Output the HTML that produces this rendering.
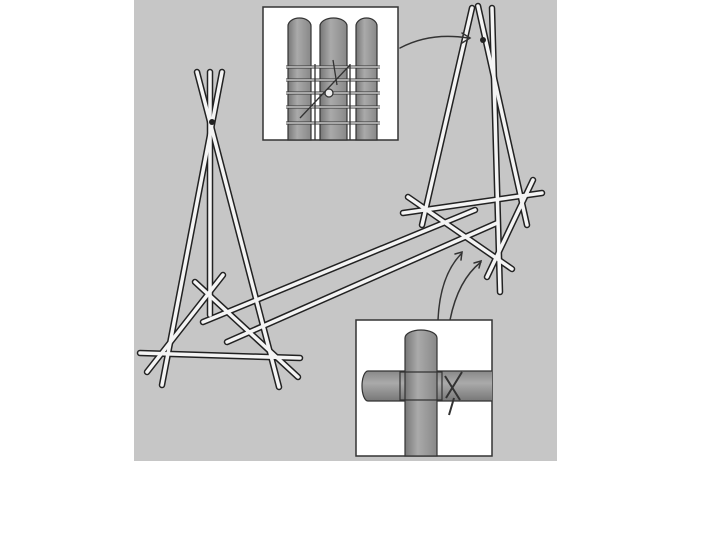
<!DOCTYPE html>
<html><head><meta charset="utf-8"><style>html,body{margin:0;padding:0;background:#fff;width:720px;height:540px;overflow:hidden}</style></head>
<body>
<svg width="720" height="540" viewBox="0 0 720 540" xmlns="http://www.w3.org/2000/svg">
<defs>
<linearGradient id="cv" x1="0" x2="1" y1="0" y2="0"><stop offset="0" stop-color="#777"/><stop offset="0.4" stop-color="#aaa"/><stop offset="1" stop-color="#888"/></linearGradient>
<linearGradient id="ch" x1="0" x2="0" y1="0" y2="1"><stop offset="0" stop-color="#888"/><stop offset="0.4" stop-color="#aaa"/><stop offset="1" stop-color="#777"/></linearGradient>
</defs>
<rect x="134" y="0" width="423" height="461" fill="#c6c6c6"/>
<g stroke-linecap="round" fill="none">
<g stroke="#222" stroke-width="6.5">
<line x1="222" y1="72" x2="162" y2="385"/><line x1="197" y1="72" x2="279" y2="387"/><line x1="210" y1="72" x2="210" y2="315"/>
<line x1="140" y1="353" x2="300" y2="358"/><line x1="195" y1="282" x2="298" y2="377"/><line x1="147" y1="372" x2="223" y2="275"/>
<line x1="203" y1="322" x2="475" y2="210"/><line x1="227" y1="342" x2="497" y2="223"/>
<line x1="472" y1="8" x2="422" y2="225"/><line x1="492" y1="8" x2="500" y2="292"/><line x1="478" y1="6" x2="527" y2="225"/>
<line x1="403" y1="213" x2="542" y2="193"/><line x1="408" y1="197" x2="512" y2="269"/><line x1="533" y1="180" x2="487" y2="277"/>
</g>
<g stroke="#f4f4f4" stroke-width="3.5">
<line x1="222" y1="72" x2="162" y2="385"/><line x1="197" y1="72" x2="279" y2="387"/><line x1="210" y1="72" x2="210" y2="315"/>
<line x1="140" y1="353" x2="300" y2="358"/><line x1="195" y1="282" x2="298" y2="377"/><line x1="147" y1="372" x2="223" y2="275"/>
<line x1="203" y1="322" x2="475" y2="210"/><line x1="227" y1="342" x2="497" y2="223"/>
<line x1="472" y1="8" x2="422" y2="225"/><line x1="492" y1="8" x2="500" y2="292"/><line x1="478" y1="6" x2="527" y2="225"/>
<line x1="403" y1="213" x2="542" y2="193"/><line x1="408" y1="197" x2="512" y2="269"/><line x1="533" y1="180" x2="487" y2="277"/>
</g>
<circle cx="212" cy="122" r="3" fill="#222" stroke="none"/><circle cx="483" cy="40" r="3" fill="#222" stroke="none"/>
<g stroke="#333" stroke-width="1.5">
<path d="M400 48 Q430 32 468 38"/><path d="M462 33 L470 38 L462 43"/>
<path d="M438 320 Q440 275 462 253"/><path d="M455 254 L462 252 L461 260"/>
<path d="M450 320 Q458 280 481 262"/><path d="M474 263 L481 261 L479 268"/>
</g>
</g>
<rect x="263" y="7" width="135" height="133" fill="#fff" stroke="#333" stroke-width="1.5"/>
<g stroke="#333" stroke-width="1.2">
<path d="M288 140 V26 a11.5 8 0 0 1 23 0 V140 Z" fill="url(#cv)"/>
<path d="M320 140 V26 a13.5 8 0 0 1 27 0 V140 Z" fill="url(#cv)"/>
<path d="M356 140 V26 a10.5 8 0 0 1 21 0 V140 Z" fill="url(#cv)"/>
</g>
<g stroke="#333" stroke-width="3" fill="none"><path d="M286 67 H380 M286 80 H380 M286 93 H380 M286 107 H380 M286 123 H380" /></g>
<g stroke="#eee" stroke-width="1.2" fill="none"><path d="M286 67 H380 M286 80 H380 M286 93 H380 M286 107 H380 M286 123 H380" /></g>
<g stroke="#333" stroke-width="1.3" fill="none"><path d="M315 64 V140 M350 64 V140 M300 118 L350 65 M333 60 L337 85"/><circle cx="329" cy="93" r="4" fill="#eee"/></g>
<rect x="356" y="320" width="136" height="136" fill="#fff" stroke="#333" stroke-width="1.5"/>
<g stroke="#333" stroke-width="1.2">
<path d="M492 371 H368 a6 15 0 0 0 0 30 H492" fill="url(#ch)"/>
<path d="M405 456 V338 a16 8 0 0 1 32 0 V456 Z" fill="url(#cv)"/>
<path d="M400 372 H442 V400 H400 Z" fill="none"/>
<path d="M445 376 L460 400 M462 372 L446 398 M454 398 L449 415" fill="none" stroke-width="2"/>
</g>
</svg>
</body></html>
